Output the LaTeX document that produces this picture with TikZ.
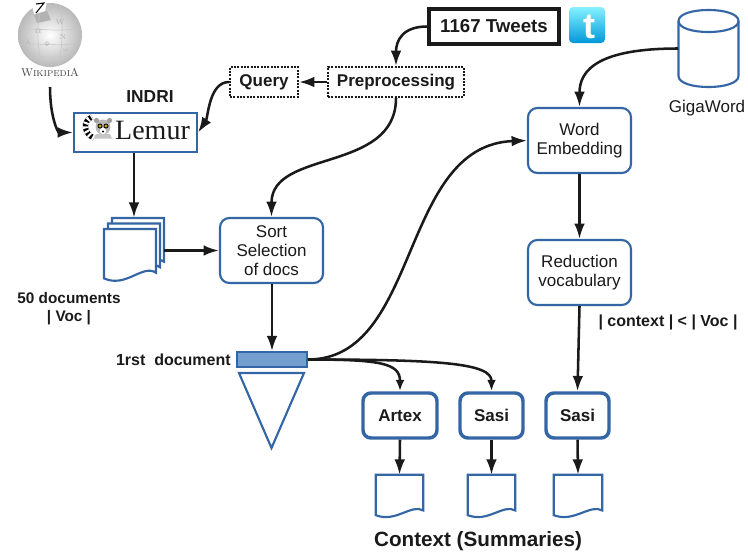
\documentclass[tikz,border=0pt]{standalone}
\usepackage{fontspec}
\setsansfont{Liberation Sans}
\newfontfamily\lemurfont{Liberation Serif}
\usetikzlibrary{arrows.meta,calc}
\definecolor{bblue}{HTML}{3465A4}
\definecolor{lblue}{HTML}{729FCF}
\definecolor{ink}{HTML}{1A1A1A}
\newcommand{\docof}[1]{\draw[docline] (#1.north west) -- (#1.north east) -- ($(#1.north east)!0.84!(#1.south east)$) .. controls +(-12,-7) and +(20,8) .. ($(#1.north west)!0.95!(#1.south west)$) -- cycle;}
\newcommand{\pageat}[4]{\draw[docline] (#1,#2) -- ++(#3,0) -- ++(0,0.84*#4) .. controls +(-0.26*#3,-0.17*#4) and +(0.42*#3,0.19*#4) .. (#1,#2+0.95*#4) -- cycle;}
\begin{document}
\begin{tikzpicture}[x=0.75pt,y=-0.75pt,
  conn/.style={line width=1.9pt, draw=ink, -{Latex[length=11.5pt,width=8pt]}},
  sconn/.style={line width=1.9pt, draw=ink, -{Latex[length=8.5pt,width=6.5pt]}},
  bline/.style={draw=bblue, line width=1.6pt},
  docline/.style={draw=bblue, line width=1.6pt, fill=white, line join=miter},
  bbox/.style={draw=bblue, line width=1.6pt, rounded corners=7pt, fill=white, inner sep=0pt, align=center, text=ink, font=\sffamily\fontsize{12.75}{14.5}\selectfont, minimum width=77.25pt, minimum height=48.75pt},
  tbox/.style={draw=bblue, line width=2.6pt, rounded corners=6pt, fill=white, inner sep=0pt, text=ink, font=\sffamily\bfseries\fontsize{12.75}{14.5}\selectfont, minimum height=33.75pt},
  dbox/.style={draw=ink, densely dotted, line width=1.5pt, inner sep=0pt, text=ink, font=\sffamily\bfseries\fontsize{12.75}{14.5}\selectfont, minimum height=22.5pt},
  lbl/.style={text=ink, font=\sffamily\bfseries\fontsize{12}{14}\selectfont, inner sep=0pt, align=center},
  ghost/.style={draw=none, inner sep=0pt},
  glyph/.style={inner sep=0pt, text=gray!60, font=\rmfamily\fontsize{5.5}{6}\selectfont},
]
\useasboundingbox (0,0) rectangle (748,554);

% ---------- Wikipedia globe ----------
\shade[inner color=white, outer color=gray!55] (50,35) circle[radius=32];
\fill[white] (31,1) -- (47,1) -- (45,11) -- (34,14) -- cycle;
\draw[black, line width=0.8pt] (36,4) -- (44,3) -- (36,13);
\fill[gray!60] (34,15) -- (47,11) -- (51,20) -- (37,23) -- cycle;
\draw[gray!45, line width=0.4pt] (22,30) .. controls (35,27) and (55,33) .. (80,28);
\draw[gray!45, line width=0.4pt] (20,45) .. controls (40,42) and (60,48) .. (81,42);
\draw[gray!45, line width=0.4pt] (28,58) .. controls (45,55) and (60,60) .. (76,54);
\draw[gray!45, line width=0.4pt] (40,14) .. controls (36,30) and (38,50) .. (42,66);
\draw[gray!45, line width=0.4pt] (60,5) .. controls (64,25) and (62,50) .. (58,66);
\node[glyph] (g1) at (60,22) {W};
\node[glyph] (g2) at (38,31) {$\Omega$};
\node[glyph] (g3) at (47,44) {$\Psi$};
\node[glyph] (g4) at (63,37) {N};
\node[glyph] (g5) at (66,50) {$\omega$};
\node[glyph] (g6) at (28,42) {$\lambda$};
\node[inner sep=0pt, text=ink!80, font=\rmfamily\fontsize{8.5}{9}\selectfont] (wikitext) at (50,73) {W\textsc{ikipedi}A};
\coordinate (wikiout) at (50,87);

% ---------- Lemur ----------
\node[draw=bblue, line width=1.6pt, fill=white, minimum width=92.25pt, minimum height=29.25pt, inner sep=0pt] (lemur) at (135.5,132.5) {};
\node[inner sep=0pt, anchor=base, text=ink, font=\lemurfont\fontsize{21}{21}\selectfont] (lemurtxt) at (152.5,139) {Lemur};
\draw[black, line width=4pt] (94,138) .. controls (84,134) and (82,121) .. (92,117);
\draw[white, line width=4pt, dash pattern=on 1.5pt off 1.8pt] (94,138) .. controls (84,134) and (82,121) .. (92,117);
\fill[gray!55] (103,127) circle[radius=7.5];
\fill[gray!75] (96.5,120.5) circle[radius=2.6];
\fill[gray!75] (109.5,120.5) circle[radius=2.6];
\fill[white] (103,131) circle[radius=3.2];
\fill[black] (100,126) circle[radius=2.5];
\fill[black] (106,126) circle[radius=2.5];
\fill[yellow!75!orange] (100,126) circle[radius=1.7];
\fill[yellow!75!orange] (106,126) circle[radius=1.7];
\fill[black] (100,126) circle[radius=0.7];
\fill[black] (106,126) circle[radius=0.7];
\fill[black] (103,131.5) circle[radius=1.2];
\fill[gray!45] (96,134) -- (110,134) -- (112,138.5) -- (94,138.5) -- cycle;
\node[lbl, font=\sffamily\bfseries\fontsize{13}{14}\selectfont] (indri) at (150,97) {INDRI};

% ---------- top boxes ----------
\node[dbox, minimum width=51pt] (query) at (264,82) {Query};
\node[dbox, minimum width=102pt] (pre) at (396,82) {Preprocessing};
\node[draw=ink, line width=2.8pt, minimum width=97.5pt, minimum height=26.25pt, inner sep=0pt, text=ink, font=\sffamily\bfseries\fontsize{14}{16}\selectfont] (tweets) at (494,26.5) {1167 Tweets};
\node[rounded corners=3pt, minimum size=27pt, inner sep=0pt, top color=cyan!45!white!95!blue, bottom color=cyan!70!blue!85!black, draw=none] (twitter) at (587,25) {};
\node[inner sep=0pt, text=white, font=\sffamily\bfseries\fontsize{27}{27}\selectfont] (twt) at (589,27) {t};

% ---------- GigaWord ----------
\node[ghost, minimum width=45pt, minimum height=57.75pt] (giga) at (708.5,48.5) {};
\draw[bline, fill=white] (678.5,21) -- (678.5,76) .. controls (678.5,90.7) and (738.5,90.7) .. (738.5,76) -- (738.5,21);
\draw[bline] (678.5,21) .. controls (678.5,6.3) and (738.5,6.3) .. (738.5,21) .. controls (738.5,35.7) and (678.5,35.7) .. (678.5,21);
\node[inner sep=0pt, text=ink, font=\sffamily\fontsize{12.75}{14.5}\selectfont] (gigatext) at (707,108) {GigaWord};

% ---------- main boxes ----------
\node[bbox] (we) at (579.5,140.5) {Word\\Embedding};
\node[bbox] (red) at (579.5,272.5) {Reduction\\vocabulary};
\node[bbox] (sort) at (271.5,250.5) {Sort\\Selection\\of docs};
\node[tbox, minimum width=55.5pt] (artex) at (400,415.5) {Artex};
\node[tbox, minimum width=47.25pt] (sasia) at (491.5,415.5) {Sasi};
\node[tbox, minimum width=47.25pt] (sasib) at (577.5,415.5) {Sasi};

% ---------- multi documents ----------
\node[ghost, minimum width=45pt, minimum height=48.75pt] (md) at (134,250.5) {};
\pageat{112}{218}{52}{52}
\pageat{108}{223.5}{52}{52}
\pageat{104}{229}{52}{52}
\node[lbl, font=\sffamily\bfseries\fontsize{11.5}{14}\selectfont] (mdtext) at (69,308.5) {50 documents\\| Voc |};

% ---------- first document ----------
\node[draw=bblue, fill=lblue, line width=1.2pt, minimum width=52.5pt, minimum height=11.25pt, inner sep=0pt] (first) at (272,359.5) {};
\node[lbl, anchor=east] (firsttext) at (231,360) {1rst\ \ document};
\draw[bline] (239,373) -- (304,373) -- (271.5,448) -- cycle;

% ---------- output documents ----------
\node[ghost, minimum width=35.25pt, minimum height=31.5pt] (d1) at (399.5,496) {};
\node[ghost, minimum width=35.25pt, minimum height=31.5pt] (d2) at (491.5,496) {};
\node[ghost, minimum width=36pt, minimum height=31.5pt] (d3) at (578,496) {};
\docof{d1}
\docof{d2}
\docof{d3}
\node[lbl, font=\sffamily\bfseries\fontsize{15.5}{17}\selectfont] (ctx) at (478,541) {Context (Summaries)};
\node[lbl] (ctxvoc) at (668,322) {| context | < | Voc |};

% ---------- connectors ----------
\draw[conn] (tweets.west) .. controls +(-25,0) and +(0,-25) .. (pre.north);
\draw[conn] (pre.west) -- (query.east);
\draw[conn] (query.west) .. controls +(-20,0) and +(10,-15) .. (lemur.east);
\draw[conn] (wikiout) .. controls +(0,30) and +(-15,0) .. (lemur.west);
\draw[conn] (lemur.south -| md.north) -- (md.north);
\draw[conn] (md.east) -- (sort.west);
\draw[conn] (pre.south) .. controls +(0,75) and +(0,-68) .. (sort.north);
\draw[conn] (sort.south -| first.north) -- (first.north);
\draw[conn] (first.east) .. controls +(113,0) and +(-128,5) .. (we.west);
\draw[sconn] (first.east) .. controls +(73,0) and +(0,-28) .. (artex.north);
\draw[sconn] (first.east) .. controls +(133,0) and +(0,-28) .. (sasia.north);
\draw[conn] (giga.west) .. controls +(-78,0) and +(0,-38) .. (we.north);
\draw[conn] (we.south) -- (red.north);
\draw[conn] (red.south) -- (sasib.north);
\draw[conn] (artex.south) -- (d1.north);
\draw[conn] (sasia.south) -- (d2.north);
\draw[conn] (sasib.south) -- (d3.north);
\end{tikzpicture}
\end{document}
